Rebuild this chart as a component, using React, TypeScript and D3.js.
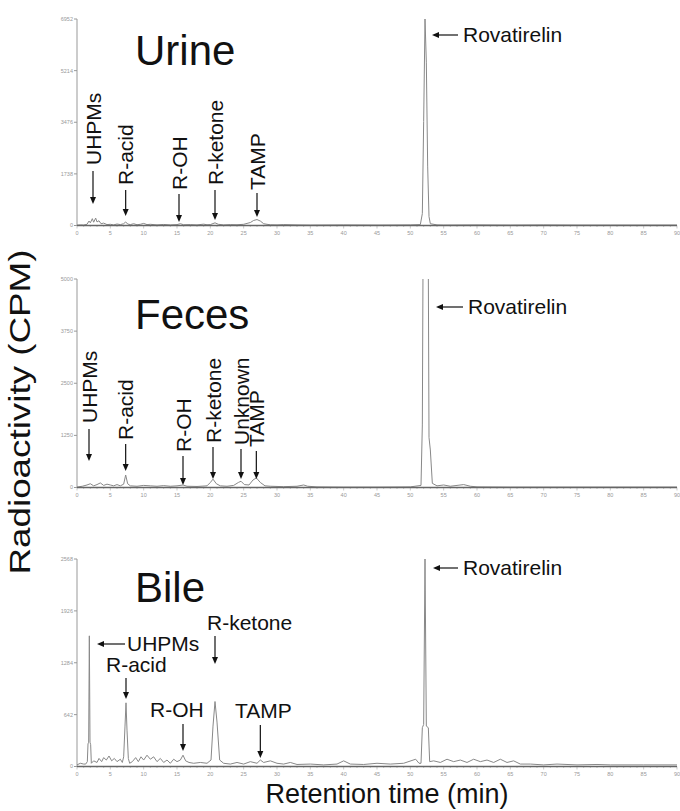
import * as d3 from "d3";

// retention time in min, radioactivity in CPM
const urineTrace: [number, number][] = [
  [0, 10], [0.5, 20], [1, 15], [1.5, 40], [1.8, 150], [2.0, 90], [2.3, 230], [2.5, 110],
  [2.8, 250], [3.0, 120], [3.3, 160], [3.6, 60], [4, 80], [4.5, 30], [5, 40], [5.5, 20],
  [6, 50], [6.5, 30], [7, 60], [7.3, 120], [7.6, 50], [8, 30], [8.5, 60], [9, 25],
  [9.5, 40], [10, 70], [10.5, 30], [11, 40], [12, 20], [13, 35], [14, 20], [15, 30],
  [15.5, 60], [16, 25], [17, 30], [18, 20], [19, 45], [19.5, 25], [20, 30], [20.7, 90],
  [21.2, 40], [22, 20], [23, 30], [24, 25], [25, 40], [26, 100], [26.5, 170], [27, 200],
  [27.5, 150], [28, 60], [28.5, 40], [29, 25], [30, 20], [31, 30], [33, 20], [35, 15],
  [40, 20], [45, 15], [50, 20], [51.5, 30], [51.8, 400], [52.0, 3500], [52.2, 6952],
  [52.4, 5500], [52.6, 2000], [52.8, 300], [53, 60], [54, 20], [55, 15], [60, 20],
  [65, 15], [70, 20], [75, 15], [80, 15], [85, 15], [90, 15],
];

const fecesTrace: [number, number][] = [
  [0, 10], [0.8, 30], [1.5, 60], [2, 90], [2.5, 40], [3, 70], [3.5, 110], [4, 50],
  [4.5, 80], [5, 60], [5.5, 40], [6, 70], [6.5, 40], [7, 80], [7.3, 300], [7.6, 90],
  [8, 40], [9, 30], [10, 50], [11, 40], [12, 30], [13, 45], [14, 30], [15, 40],
  [15.9, 60], [16.5, 30], [18, 25], [19.5, 40], [20.0, 120], [20.4, 200], [20.9, 90],
  [21.5, 40], [22.5, 30], [23.5, 50], [24.2, 120], [24.6, 150], [25.1, 70], [25.8, 60],
  [26.4, 180], [26.9, 230], [27.5, 120], [28.2, 40], [29, 30], [31, 20], [33, 30],
  [34, 60], [34.6, 30], [36, 15], [40, 10], [45, 10], [50, 15], [51.6, 50],
  [51.8, 1500], [52.0, 9000], [52.6, 9000], [52.8, 1200], [53.0, 900], [53.3, 100],
  [54, 40], [55, 60], [56, 30], [58, 70], [59, 30], [60, 15], [65, 10], [70, 10],
  [75, 10], [80, 10], [85, 10], [90, 10],
];

const bileTrace: [number, number][] = [
  [0, 20], [0.5, 40], [1, 30], [1.3, 30], [1.55, 60], [1.65, 280], [1.75, 300],
  [1.85, 1617], [1.95, 300], [2.05, 270], [2.15, 40], [2.5, 70], [3, 50], [3.3, 100],
  [3.7, 60], [4, 110], [4.4, 80], [4.8, 130], [5.2, 70], [5.6, 100], [6, 60], [6.5, 90],
  [6.8, 50], [7.0, 120], [7.2, 500], [7.35, 788], [7.5, 450], [7.7, 100], [7.9, 40],
  [8.3, 60], [8.8, 110], [9.2, 60], [9.6, 120], [10, 80], [10.5, 140], [11, 90],
  [11.5, 120], [12, 60], [12.5, 100], [13, 50], [13.5, 80], [14, 40], [14.5, 90],
  [15, 60], [15.5, 80], [15.9, 140], [16.3, 70], [16.8, 50], [17.5, 40], [18.5, 50],
  [19.5, 40], [20.1, 80], [20.4, 500], [20.7, 804], [21.0, 550], [21.4, 80], [22, 40],
  [23, 30], [24, 50], [25, 30], [26, 60], [27, 40], [27.5, 80], [28, 50], [29, 70],
  [30, 40], [31, 30], [32, 50], [33, 25], [35, 30], [37, 20], [39, 30], [40, 70],
  [41, 30], [43, 25], [45, 40], [47, 30], [49, 40], [50.8, 90], [51.3, 40], [51.6, 40],
  [51.8, 480], [52.0, 520], [52.2, 2568], [52.4, 500], [52.7, 480], [52.9, 60],
  [53.5, 70], [54.5, 50], [55.5, 90], [56.5, 60], [57.5, 80], [58.5, 50], [59.5, 90],
  [60.5, 60], [61.5, 80], [62.5, 50], [63.5, 90], [64.5, 50], [65.5, 70], [66.5, 30],
  [68, 30], [70, 20], [72, 30], [75, 20], [78, 25], [80, 20], [85, 20], [90, 20],
];

const urineTicks = [0, 1738, 3476, 5214, 6952];
const fecesTicks = [0, 1250, 2500, 3750, 5000];
const bileTicks = [0, 642, 1284, 1926, 2568];

const xTicks = d3.range(0, 91, 5);

// vertical labels: name, retention time
const urineLabels: [string, number][] = [
  ["UHPMs", 2.4], ["R-acid", 7.3], ["R-OH", 15.3], ["R-ketone", 20.7], ["TAMP", 27.0],
];
const fecesLabels: [string, number][] = [
  ["UHPMs", 1.8], ["R-acid", 7.3], ["R-OH", 15.9], ["R-ketone", 20.4], ["Unknown", 24.6], ["TAMP", 26.9],
];
const bileLabels: [string, number][] = [
  ["R-acid", 7.35], ["R-OH", 15.9], ["R-ketone", 20.7], ["TAMP", 27.5],
];

const W = 680;
const H = 811;
const x = d3.scaleLinear([0, 90], [77, 677]);
const font = "Liberation Sans, Arial, Helvetica, sans-serif";

function Arrow({ x1, y1, x2, y2 }: { x1: number; y1: number; x2: number; y2: number }) {
  const a = Math.atan2(y2 - y1, x2 - x1);
  const L = 7, w = 3;
  const bx = x2 - L * Math.cos(a), by = y2 - L * Math.sin(a);
  const px = -Math.sin(a) * w, py = Math.cos(a) * w;
  return (
    <g>
      <line x1={x1} y1={y1} x2={bx} y2={by} stroke="#111" strokeWidth={1.2} />
      <path d={`M${x2},${y2}L${bx + px},${by + py}L${bx - px},${by - py}Z`} fill="#111" />
    </g>
  );
}

function Panel({ id, trace, ticks, y0, y1, title, titleY, labels, labelBottom, rovY }: any) {
  const max = ticks[ticks.length - 1];
  const y = d3.scaleLinear([0, max], [y0, y1]);
  const line = d3.line<[number, number]>().x((d) => x(d[0])).y((d) => y(d[1]));
  const minor = d3.range(0, 91, 1);
  return (
    <g>
      <defs>
        <clipPath id={id}>
          <rect x={x(0)} y={y1} width={x(90) - x(0)} height={y0 - y1 + 2} />
        </clipPath>
      </defs>
      {/* y axis */}
      <line x1={x(0)} x2={x(0)} y1={y1} y2={y0} stroke="#999" strokeWidth={1} />
      {ticks.map((t: number) => (
        <g key={t}>
          <line x1={x(0) - 3} x2={x(0)} y1={y(t)} y2={y(t)} stroke="#999" />
          <text x={x(0) - 4} y={y(t)} dy="0.35em" textAnchor="end" fontSize={5.5} fill="#999" fontFamily={font}>
            {t}
          </text>
        </g>
      ))}
      {/* x axis */}
      {minor.map((t) => (
        <line key={t} x1={x(t)} x2={x(t)} y1={y0} y2={y0 + (t % 5 === 0 ? 3 : 1.5)} stroke="#aaa" strokeWidth={0.6} />
      ))}
      {xTicks.map((t) => (
        <text key={t} x={x(t)} y={y0 + 9} textAnchor="middle" fontSize={5.5} fill="#999" fontFamily={font}>
          {t}
        </text>
      ))}
      <path d={line(trace) as string} fill="none" stroke="#888" strokeWidth={1} clipPath={`url(#${id})`} />
      <line x1={x(0)} x2={x(90)} y1={y0} y2={y0} stroke="#666" strokeWidth={1.4} />
      <text x={135} y={titleY} fontSize={42} fontFamily={font} fill="#111">{title}</text>
      {labels &&
        labels.map(([name, t]: [string, number], i: number) => {
          const bottom = labelBottom[i];
          const px = x(t);
          return (
            <g key={name}>
              <text
                transform={`translate(${px + 7.5},${bottom[0]}) rotate(-90)`}
                fontSize={21}
                fontFamily={font}
                fill="#111"
              >
                {name}
              </text>
              <Arrow x1={px} y1={bottom[1]} x2={px} y2={bottom[2]} />
            </g>
          );
        })}
      <Arrow x1={rovY[1]} y1={rovY[0]} x2={rovY[2]} y2={rovY[0]} />
      <text x={rovY[1] + 5} y={rovY[0] + 7} fontSize={21} fontFamily={font} fill="#111">Rovatirelin</text>
    </g>
  );
}

export default function App() {
  const bileText: [string, number, number, number, number][] = [
    // name, text x, text baseline, arrow start y, arrow end y
    ["R-acid", 106, 672, 678, 699],
    ["R-OH", 150, 717, 724, 751],
    ["R-ketone", 207, 630, 636, 664],
    ["TAMP", 235, 718, 725, 758],
  ];
  return (
    <div>
      <style>{`body{margin:0}`}</style>
      <svg width={W} height={H} style={{ display: "block", background: "#fff" }}>
        <Panel
          id="cu"
          trace={urineTrace}
          ticks={urineTicks}
          y0={225.5}
          y1={19}
          title="Urine"
          titleY={65}
          labels={urineLabels}
          labelBottom={[[165, 171, 204], [185, 190, 216], [190, 194, 222], [185, 190, 220], [190, 193, 217]]}
          rovY={[35, 458, 432]}
        />
        <Panel
          id="cf"
          trace={fecesTrace}
          ticks={fecesTicks}
          y0={487.5}
          y1={279}
          title="Feces"
          titleY={329}
          labels={fecesLabels}
          labelBottom={[[423, 429, 461], [440, 444, 471], [452, 456, 485], [443, 447, 479], [445, 449, 479], [447, 451, 479]]}
          rovY={[307, 463, 436]}
        />
        <Panel
          id="cb"
          trace={bileTrace}
          ticks={bileTicks}
          y0={766.5}
          y1={559}
          title="Bile"
          titleY={602}
          labels={null}
          labelBottom={[]}
          rovY={[568, 458, 433]}
        />
        {bileText.map(([name, tx, ty, a0, a1], i) => {
          const px = x(bileLabels[i][1]);
          return (
            <g key={name}>
              <text x={tx} y={ty} fontSize={21} fontFamily={font} fill="#111">{name}</text>
              <Arrow x1={px} y1={a0} x2={px} y2={a1} />
            </g>
          );
        })}
        <Arrow x1={125} y1={644} x2={97} y2={644} />
        <text x={127} y={651} fontSize={21} fontFamily={font} fill="#111">UHPMs</text>
        <text
          transform={`translate(30,412) rotate(-90)`}
          textAnchor="middle"
          fontSize={30}
          textLength={325}
          lengthAdjust="spacingAndGlyphs"
          fontFamily={font}
          fill="#111"
        >
          Radioactivity (CPM)
        </text>
        <text x={387} y={803} textAnchor="middle" fontSize={27} fontFamily={font} fill="#111">
          Retention time (min)
        </text>
      </svg>
    </div>
  );
}
